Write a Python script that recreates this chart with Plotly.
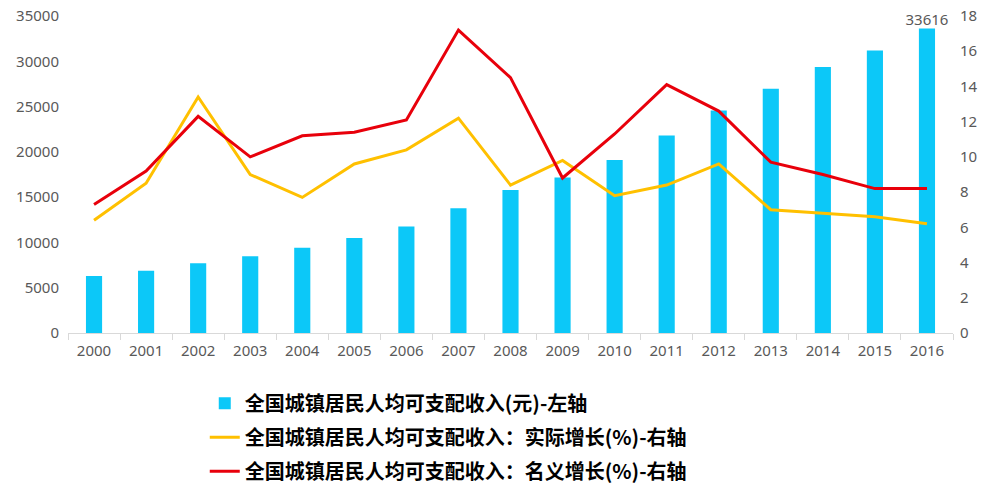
import plotly.graph_objects as go

years = [str(y) for y in range(2000, 2017)]
income = [6280, 6860, 7703, 8472, 9422, 10493, 11759, 13786, 15781, 17175,
          19109, 21810, 24565, 26955, 29381, 31195, 33616]
real_growth = [6.4, 8.5, 13.4, 9.0, 7.7, 9.6, 10.4, 12.2, 8.4, 9.8,
               7.8, 8.4, 9.6, 7.0, 6.8, 6.6, 6.2]
nominal_growth = [7.3, 9.2, 12.3, 10.0, 11.2, 11.4, 12.1, 17.2, 14.5, 8.8,
                  11.3, 14.1, 12.6, 9.7, 9.0, 8.2, 8.2]
label_year = "2016"
label_value = 33616

name_bar = "全国城镇居民人均可支配收入(元)-左轴"
name_real = "全国城镇居民人均可支配收入：实际增长(%)-右轴"
name_nom = "全国城镇居民人均可支配收入：名义增长(%)-右轴"

tickfont = dict(family="Noto Sans, Liberation Sans, sans-serif", size=15, color="#595959")

fig = go.Figure()
fig.add_trace(go.Bar(
    x=years, y=income, name=name_bar, marker_color="#0CC8F8",
    marker_line_width=0, width=0.31, legendgroup="a"))
fig.add_trace(go.Scatter(
    x=years, y=real_growth, name=name_real, mode="lines",
    line=dict(color="#FFC000", width=3), yaxis="y2", legendgroup="b"))
fig.add_trace(go.Scatter(
    x=years, y=nominal_growth, name=name_nom, mode="lines",
    line=dict(color="#E8000B", width=3), yaxis="y2", legendgroup="c"))
fig.add_trace(go.Scatter(
    x=[label_year], y=[label_value], mode="text", text=[str(label_value)],
    textposition="top center", textfont=tickfont, showlegend=False,
    cliponaxis=False, hoverinfo="skip"))

fig.update_layout(
    width=994, height=494,
    margin=dict(l=68, r=41, t=16, b=161, autoexpand=False),
    paper_bgcolor="white", plot_bgcolor="white",
    showlegend=True,
    xaxis=dict(type="category", tickfont=tickfont, showgrid=False,
               range=[-0.5, len(years) - 0.5],
               showline=True, linecolor="#D9D9D9", linewidth=1,
               ticks="outside", tickson="boundaries", ticklen=6,
               tickcolor="#D9D9D9", automargin=False, ticklabelstandoff=4),
    yaxis=dict(range=[0, 35000], dtick=5000, tickfont=tickfont,
               showgrid=False, zeroline=False, ticks="", showline=False,
               tickformat="d", automargin=False, ticklabelstandoff=8),
    yaxis2=dict(range=[0, 18], dtick=2, tickfont=tickfont, overlaying="y",
                side="right", showgrid=False, zeroline=False, ticks="",
                showline=False, automargin=False, ticklabelstandoff=6),
    legend=dict(orientation="v", xref="container", x=0.206, xanchor="left",
                yref="container", y=0.223, yanchor="top", tracegroupgap=5,
                font=dict(family="Noto Sans CJK SC", size=20, color="#000000",
                          weight="bold"),
                bgcolor="rgba(0,0,0,0)"),
)

fig.write_html("out.html", config={"displayModeBar": False},
               post_script="document.body.style.margin='0';document.body.style.overflow='hidden';")
